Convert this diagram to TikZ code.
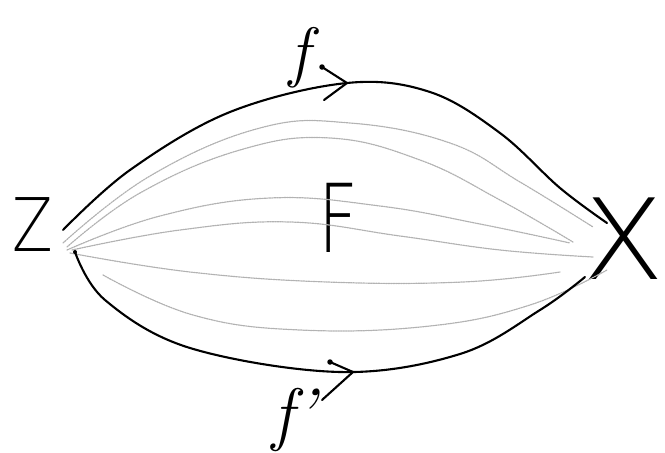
\documentclass[tikz,border=0pt]{standalone}
\usepackage{fontspec}
\newfontfamily\hand{DejaVuSans-ExtraLight.ttf}
\begin{document}
\begin{tikzpicture}[x=1pt,y=-1pt,
  ink/.style={line width=2.1pt, line cap=round, line join=round, draw=black},
  pencil/.style={line width=1.2pt, draw=black!30, dash pattern=on 1.6pt off 0.9pt, line cap=round},
  blob/.style={circle, fill=black, inner sep=0pt, minimum size=5.5pt},
  letter/.style={inner sep=0pt, text=black}]
\useasboundingbox (0,0) rectangle (665,453);
% letters
\node[letter, font=\hand\fontsize{74}{74}\selectfont] (Z) at (33,225) {\scalebox{0.8}[1]{Z}};
\node[letter, font=\hand\fontsize{95}{95}\selectfont] (F) at (338,218) {\scalebox{0.73}[1]{F}};
\node[letter, font=\hand\fontsize{112}{112}\selectfont] (X) at (624,239) {\scalebox{1.07}[1]{X}};
\node[letter, font=\fontsize{67}{67}\selectfont\itshape] (f) at (300,58) {f};
\node[letter, font=\fontsize{70}{70}\selectfont\itshape] (fp) at (294,420) {f\kern2pt'};
% end points
\coordinate (zt) at (63,230);
\coordinate (zb) at (75,252);
\coordinate (xt) at (607,223);
\coordinate (xb) at (585,277);
% pencil fan
\draw[pencil] plot[smooth, tension=0.7] coordinates {(63,243) (150,176) (260,128) (350,123) (450,143) (520,182) (593,227)};
\draw[pencil] plot[smooth, tension=0.7] coordinates {(67,247) (140,193) (240,150) (330,138) (420,160) (500,200) (573,242)};
\draw[pencil] plot[smooth, tension=0.7] coordinates {(67,250) (160,216) (270,198) (380,206) (480,224) (570,243)};
\draw[pencil] plot[smooth, tension=0.7] coordinates {(72,250) (180,230) (290,222) (400,236) (500,250) (593,257)};
\draw[pencil] plot[smooth, tension=0.7] coordinates {(70,253) (190,272) (327,282) (463,282) (560,272)};
\draw[pencil] plot[smooth, tension=0.7] coordinates {(103,275) (193,315) (300,330) (430,326) (530,305) (607,270)};
% main curves
\draw[ink] plot[smooth, tension=0.6] coordinates {(zt) (130,170) (230,112) (347,83) (430,92) (500,133) (560,188) (xt)};
\draw[ink] plot[smooth, tension=0.6] coordinates {(zb) (105,300) (190,348) (340,372) (460,354) (540,310) (xb)};
\node[blob, minimum size=4pt] at (zb) {};
% arrow on f
\coordinate (ta) at (347,83);
\node[blob] (ta1) at (322,67) {};
\draw[ink] (ta1.center) -- (ta) -- (324,100);
% arrow on f'
\coordinate (ba) at (353,372);
\node[blob] (ba1) at (330,362) {};
\draw[ink] (ba1.center) -- (ba) -- (322,400);
\end{tikzpicture}
\end{document}
